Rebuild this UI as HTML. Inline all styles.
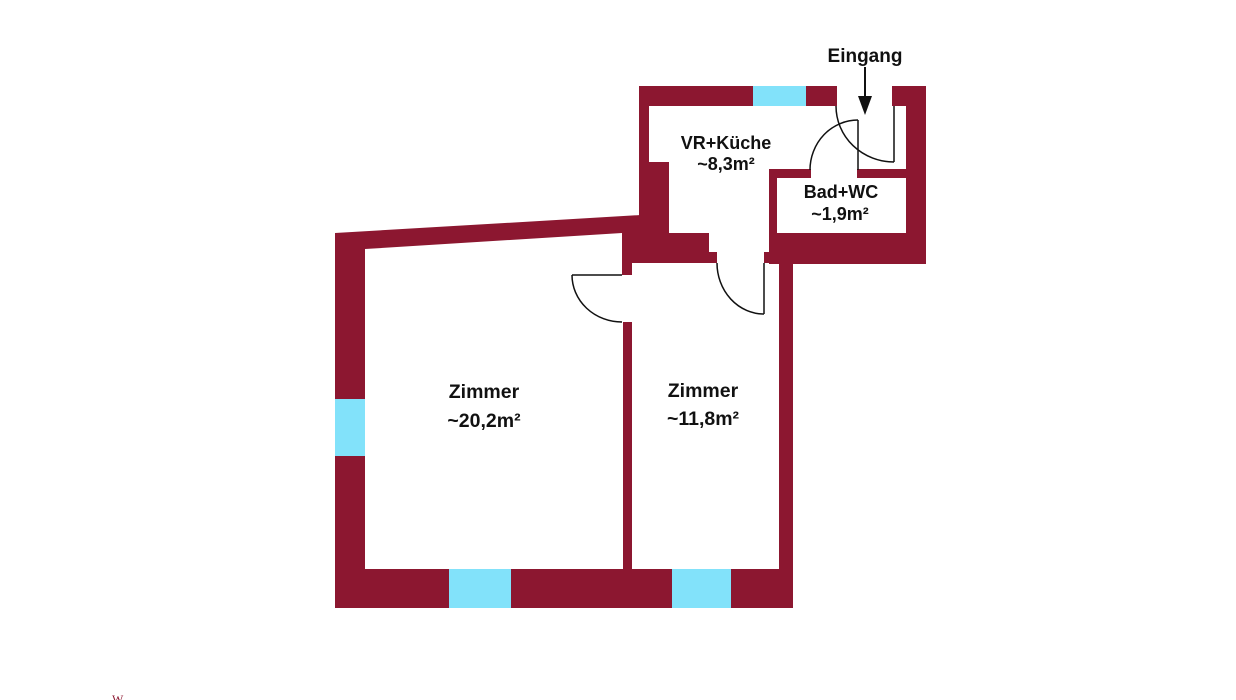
<!DOCTYPE html>
<html>
<head>
<meta charset="utf-8">
<style>
  html, body { margin: 0; padding: 0; background: #ffffff; }
  body { width: 1236px; height: 700px; overflow: hidden; }
  svg { display: block; }
  .t { font-family: "Liberation Sans", "DejaVu Sans", sans-serif; font-weight: bold; fill: #111; text-anchor: middle; }
</style>
</head>
<body>
<svg width="1236" height="700" viewBox="0 0 1236 700" xmlns="http://www.w3.org/2000/svg">
  <g fill="#8c1730">
    <!-- slanted top wall of big room -->
    <polygon points="335,233 641,215 641,240 622,233 365,249 335,250"/>
    <!-- left wall -->
    <rect x="335" y="233" width="30" height="375"/>
    <!-- bottom wall -->
    <rect x="335" y="569" width="458" height="39"/>
    <!-- right wall of Zimmer 2 -->
    <rect x="779" y="252" width="14" height="356"/>
    <!-- partition between rooms -->
    <rect x="623" y="322" width="9" height="247"/>
    <rect x="622" y="233" width="10" height="42"/>
    <!-- block under kitchen -->
    <rect x="622" y="233" width="87" height="20"/>
    <rect x="622" y="252" width="95" height="11"/>
    <!-- kitchen left wall -->
    <rect x="639" y="86" width="10" height="150"/>
    <rect x="639" y="162" width="30" height="75"/>
    <!-- kitchen top wall -->
    <rect x="639" y="86" width="198" height="20"/>
    <!-- top right block & right wall -->
    <rect x="892" y="86" width="34" height="20"/>
    <rect x="906" y="86" width="20" height="178"/>
    <!-- bath top wall -->
    <rect x="769" y="169" width="42" height="9"/>
    <rect x="857" y="169" width="50" height="9"/>
    <!-- bath left wall -->
    <rect x="769" y="169" width="8" height="94"/>
    <!-- bath bottom wall -->
    <rect x="769" y="233" width="157" height="31"/>
    <!-- jamb right of kitchen door -->
    <rect x="764" y="252" width="15" height="11"/>
  </g>
  <g fill="#82e2fa">
    <rect x="753" y="86" width="53" height="20"/>
    <rect x="335" y="399" width="30" height="57"/>
    <rect x="449" y="569" width="62" height="39"/>
    <rect x="672" y="569" width="59" height="39"/>
  </g>
  <g fill="none" stroke="#111" stroke-width="1.5">
    <!-- Zimmer 1 door -->
    <line x1="572" y1="275" x2="622" y2="275"/>
    <path d="M572,275 A50,47 0 0,0 622,322"/>
    <!-- kitchen/Zimmer 2 door -->
    <line x1="764" y1="263" x2="764" y2="314"/>
    <path d="M717,263 A47,51 0 0,0 764,314"/>
    <!-- bath door -->
    <line x1="858" y1="120" x2="858" y2="170"/>
    <path d="M810,170 A48,50 0 0,1 858,120"/>
    <!-- entrance door -->
    <line x1="894" y1="106" x2="894" y2="162"/>
    <path d="M836,106 A58,56 0 0,0 894,162"/>
    <!-- arrow -->
    <line x1="865" y1="67" x2="865" y2="99" stroke-width="2"/>
  </g>
  <polygon points="858,96 872,96 865,115" fill="#111"/>

  <text class="t" x="865" y="62" font-size="19">Eingang</text>
  <text class="t" x="726" y="149" font-size="18">VR+Küche</text>
  <text class="t" x="726" y="170" font-size="18">~8,3m²</text>
  <text class="t" x="841" y="198" font-size="18">Bad+WC</text>
  <text class="t" x="840" y="220" font-size="18">~1,9m²</text>
  <text class="t" x="484" y="398" font-size="19.5">Zimmer</text>
  <text class="t" x="484" y="427" font-size="19.5">~20,2m²</text>
  <text class="t" x="703" y="397" font-size="19.5">Zimmer</text>
  <text class="t" x="703" y="425" font-size="19.5">~11,8m²</text>

  <text x="112" y="703" font-family="Liberation Serif, serif" font-size="12" fill="#8c1730">W</text>
</svg>
</body>
</html>
